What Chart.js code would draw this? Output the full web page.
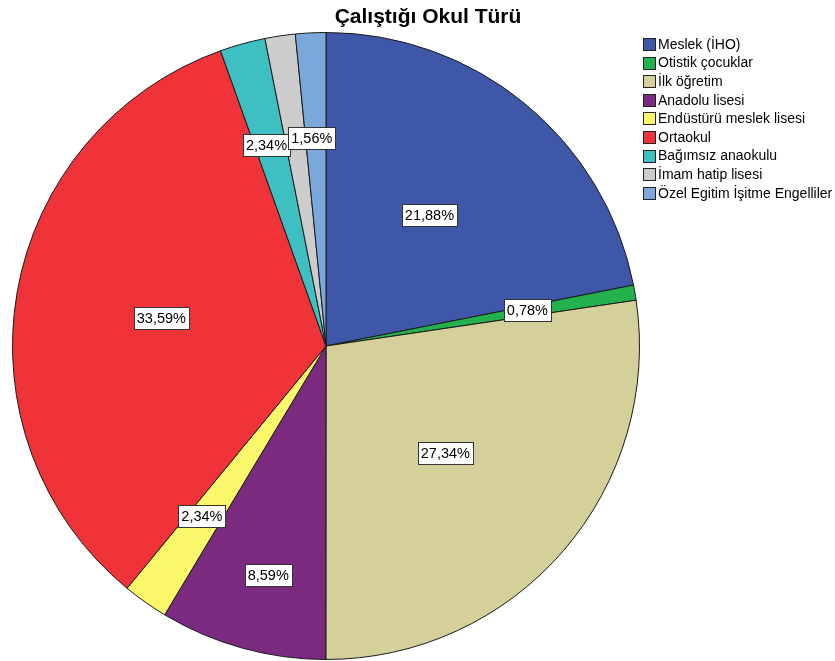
<!DOCTYPE html>
<html>
<head>
<meta charset="utf-8">
<script src="https://cdn.jsdelivr.net/npm/chart.js@4/dist/chart.umd.min.js"></script>
<style>
  html, body { margin: 0; padding: 0; background: #fff; }
  #wrap { width: 835px; height: 661px; }
</style>
</head>
<body>
<div id="wrap"><canvas id="okul" width="835" height="661"></canvas></div>
<script>
// data (percent of 128 teachers)
var categories = ['Meslek (İHO)', 'Otistik çocuklar', 'İlk öğretim', 'Anadolu lisesi',
  'Endüstürü meslek lisesi', 'Ortaokul', 'Bağımsız anaokulu', 'İmam hatip lisesi',
  'Özel Egitim İşitme Engelliler'];
var percents = [21.88, 0.78, 27.34, 8.59, 2.34, 33.59, 2.34, 1.56, 1.56];
// the gray slice's label is hidden under its neighbour in the original
var showLabel = [true, true, true, true, true, true, true, false, true];
var colors = ['#3F57A8', '#23B14D', '#D5CF99', '#7A2A7F', '#FBF76B',
  '#EF3338', '#3EC0C3', '#CCCCCC', '#7BA8DA'];

var FONT = 'Arial, "Liberation Sans", sans-serif';

// slice value labels in white boxes
var sliceLabels = {
  id: 'sliceLabels',
  afterDatasetsDraw: function(chart) {
    var ctx = chart.ctx;
    var meta = chart.getDatasetMeta(0);
    ctx.save();
    ctx.font = '14.5px ' + FONT;
    ctx.textAlign = 'center';
    ctx.textBaseline = 'middle';
    meta.data.forEach(function(arc, i) {
      if (!showLabel[i]) return;
      var p = arc.getProps(['x', 'y', 'startAngle', 'endAngle', 'outerRadius'], true);
      var mid = (p.startAngle + p.endAngle) / 2;
      var pct = percents[i];
      var f = pct >= 25 ? 0.52 : pct >= 15 ? 0.54 : (pct >= 5 ? 0.75 : 0.665);
      if (pct >= 5 && pct < 15) mid -= 0.04;
      var x = p.x + Math.cos(mid) * p.outerRadius * f - 4;
      var y = p.y + Math.sin(mid) * p.outerRadius * f;
      var txt = pct.toFixed(2).replace('.', ',') + '%';
      var w = Math.round(ctx.measureText(txt).width + 6);
      var h = 22;
      var bx = Math.round(x - w / 2) + 0.5, by = Math.round(y - h / 2) + 0.5;
      ctx.fillStyle = '#fff';
      ctx.fillRect(bx, by, w, h);
      ctx.strokeStyle = '#333';
      ctx.lineWidth = 1;
      ctx.strokeRect(bx, by, w, h);
      ctx.fillStyle = '#000';
      ctx.fillText(txt, x, y + 1);
    });
    ctx.restore();
  }
};

// title and legend drawn like the SPSS output
var titleLegend = {
  id: 'titleLegend',
  afterDraw: function(chart) {
    var ctx = chart.ctx;
    ctx.save();
    ctx.fillStyle = '#000';
    ctx.font = 'bold 21px ' + FONT;
    ctx.textAlign = 'center';
    ctx.textBaseline = 'middle';
    ctx.fillText('Çalıştığı Okul Türü', 428, 17);

    ctx.font = '14px ' + FONT;
    ctx.textAlign = 'left';
    for (var i = 0; i < categories.length; i++) {
      var cy = 44 + i * 18.6;
      ctx.fillStyle = colors[i];
      ctx.fillRect(643.5, Math.round(cy - 6) + 0.5, 12, 12);
      ctx.strokeStyle = '#222';
      ctx.lineWidth = 1;
      ctx.strokeRect(643.5, Math.round(cy - 6) + 0.5, 12, 12);
      ctx.fillStyle = '#000';
      ctx.fillText(categories[i], 658, cy + 1);
    }
    ctx.restore();
  }
};

new Chart(document.getElementById('okul'), {
  type: 'pie',
  data: {
    labels: categories,
    datasets: [{
      data: percents,
      backgroundColor: colors,
      borderColor: '#1a1a1a',
      borderWidth: 1
    }]
  },
  options: {
    responsive: false,
    animation: false,
    layout: { padding: { left: 12, top: 32, right: 195, bottom: 1 } },
    plugins: {
      legend: { display: false },
      title: { display: false },
      tooltip: { enabled: false }
    }
  },
  plugins: [sliceLabels, titleLegend]
});
</script>
</body>
</html>
